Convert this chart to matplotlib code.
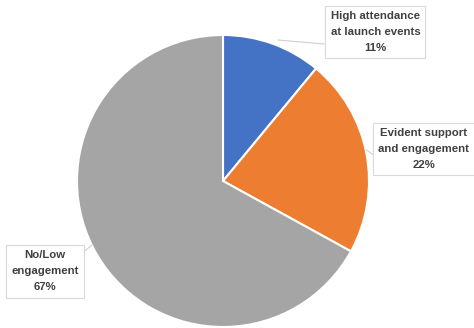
import matplotlib.pyplot as plt

labels = ["High attendance\nat launch events", "Evident support\nand engagement", "No/Low\nengagement"]
shares = [11, 22, 67]
colors = ["#4472C4", "#ED7D31", "#A5A5A5"]

# label box centres and leader-line anchor points (pixel coords, y up)
box_xy = [(375.5, 296), (424, 179), (45, 56.5)]
line_from = [(324, 284), (374, 173), (80, 73)]
line_to = [(278, 288), (366, 178), (92, 83)]

fig = plt.figure(figsize=(4.74, 3.28), dpi=100)
ax = fig.add_axes([0, 0, 1, 1])

ax.pie(shares, colors=colors, startangle=90, counterclock=False,
       center=(223, 147), radius=146,
       wedgeprops=dict(edgecolor="white", linewidth=1.5))

ax.set_xlim(0, 474)
ax.set_ylim(0, 328)
ax.set_aspect("equal")
ax.axis("off")

for lab, val, (bx, by), p0, p1 in zip(labels, shares, box_xy, line_from, line_to):
    ax.plot([p0[0], p1[0]], [p0[1], p1[1]], color="#D0D0D0", lw=0.8)
    ax.text(bx, by, f"{lab}\n{val}%", ha="center", va="center",
            fontsize=8.2, fontweight="bold", family="Liberation Sans",
            color="#404040", linespacing=1.75,
            bbox=dict(boxstyle="square,pad=0.45", fc="white", ec="#D9D9D9", lw=0.8))

fig.savefig("out.png", dpi=100)
